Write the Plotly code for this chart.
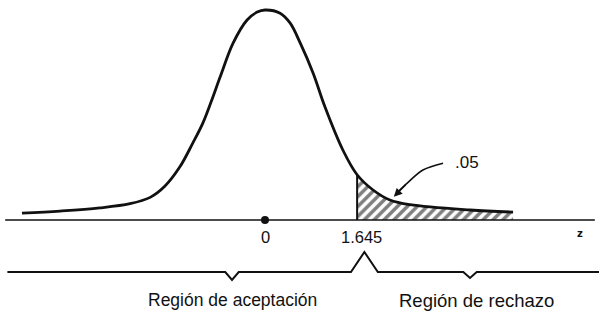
import plotly.graph_objects as go

# Standard normal curve, sampled heights (density) at selected z values
z_vals = [-4.34, -3.66, -2.95, -2.41, -2.05, -1.79, -1.52, -1.29, -1.11, -0.95, -0.80,
          -0.57, -0.32, -0.14, 0.0, 0.27, 0.45, 0.63, 0.86, 1.07, 1.39, 1.645,
          1.93, 2.23, 2.59, 3.66, 4.43]
dens = [0.013, 0.017, 0.023, 0.031, 0.043, 0.064, 0.101, 0.146, 0.184, 0.228, 0.272,
        0.336, 0.380, 0.395, 0.399, 0.393, 0.374, 0.336, 0.279, 0.215, 0.133, 0.086,
        0.057, 0.038, 0.029, 0.019, 0.015]

z_crit = 1.645
alpha_label = ".05"
tick_vals = [0, z_crit]
tick_text = ["0", "1.645"]
region_labels = ["Región de aceptación", "Región de rechazo"]

# pixel-like scale for the vertical axis (density units per pixel)
S = 0.399 / 210.0
X_MIN, X_MAX = -265 / 56, (599 - 265) / 56
Y_MIN, Y_MAX = -100 * S, 220 * S

FONT = "Liberation Sans"
INK = "#111111"

fig = go.Figure()

# rejection region, hatched
tail_z = [z for z in z_vals if z >= z_crit]
tail_d = [d for z, d in zip(z_vals, dens) if z >= z_crit]
fig.add_trace(go.Scatter(
    x=tail_z, y=tail_d, mode="lines", line=dict(width=0, shape="spline", smoothing=1),
    fill="tozeroy", fillcolor="white",
    fillpattern=dict(shape="/", fgcolor="#000000", bgcolor="white", size=7, solidity=0.5),
    hoverinfo="skip", showlegend=False))

# vertical edge of the rejection region
fig.add_trace(go.Scatter(
    x=[z_crit, z_crit], y=[0, dens[z_vals.index(z_crit)]], mode="lines",
    line=dict(color=INK, width=2), hoverinfo="skip", showlegend=False))

# horizontal z axis
fig.add_trace(go.Scatter(
    x=[-4.64, 5.89], y=[0, 0], mode="lines",
    line=dict(color=INK, width=1.6), hoverinfo="skip", showlegend=False))

# density curve
fig.add_trace(go.Scatter(
    x=z_vals, y=dens, mode="lines",
    line=dict(color=INK, width=2.8, shape="spline", smoothing=1),
    hoverinfo="skip", showlegend=False))

# mean marker
fig.add_trace(go.Scatter(
    x=[0], y=[0], mode="markers", marker=dict(color=INK, size=8),
    hoverinfo="skip", showlegend=False))

# curved pointer to the tail area
arc_x = [3.18, 2.82, 2.54, 2.36]
arc_y = [0.108, 0.095, 0.070, 0.052]
fig.add_trace(go.Scatter(
    x=arc_x, y=arc_y, mode="lines", line=dict(color=INK, width=1.6, shape="spline"),
    hoverinfo="skip", showlegend=False))
fig.add_annotation(x=2.30, y=0.044, ax=arc_x[-2], ay=arc_y[-2], axref="x", ayref="y",
                   xref="x", yref="y", text="", showarrow=True, arrowhead=2,
                   arrowsize=1.2, arrowwidth=1.4, arrowcolor=INK)
fig.add_annotation(x=3.61, y=0.110, text=alpha_label, showarrow=False,
                   font=dict(family=FONT, size=17, color=INK))

# tick labels on the z axis
for v, t in zip(tick_vals, tick_text):
    fig.add_annotation(x=v + (0.085 if v else 0), y=-17 * S, text=t, showarrow=False,
                       font=dict(family=FONT, size=16.5, color=INK))
fig.add_annotation(x=5.63, y=-13 * S, text="<b>z</b>", showarrow=False,
                   font=dict(family="DejaVu Sans", size=10, color=INK))

# braces under the axis
by = -52 * S
left_end, right_end = -4.6, 6.0
peak_z = z_crit + 0.13
acc_mid = (232 - 265) / 56
rej_mid = (470 - 265) / 56
brace_x = [left_end, acc_mid - 0.12, acc_mid, acc_mid + 0.12, peak_z - 0.24, peak_z,
           peak_z + 0.24, rej_mid - 0.12, rej_mid, rej_mid + 0.12, right_end]
brace_y = [by, by, by - 8 * S, by, by, -32 * S, by, by, by - 6 * S, by, by]
fig.add_trace(go.Scatter(
    x=brace_x, y=brace_y, mode="lines", line=dict(color=INK, width=2),
    hoverinfo="skip", showlegend=False))

for mid, lab, fs in zip([acc_mid, (476 - 265) / 56], region_labels, [17.5, 18.5]):
    fig.add_annotation(x=mid, y=-80 * S, text=lab, showarrow=False,
                       font=dict(family=FONT, size=fs, color=INK))

fig.update_layout(
    width=599, height=320, margin=dict(l=0, r=0, t=0, b=0),
    paper_bgcolor="white", plot_bgcolor="white",
    xaxis=dict(range=[X_MIN, X_MAX], visible=False, fixedrange=True),
    yaxis=dict(range=[Y_MIN, Y_MAX], visible=False, fixedrange=True),
)

fig.write_html("out.html")
